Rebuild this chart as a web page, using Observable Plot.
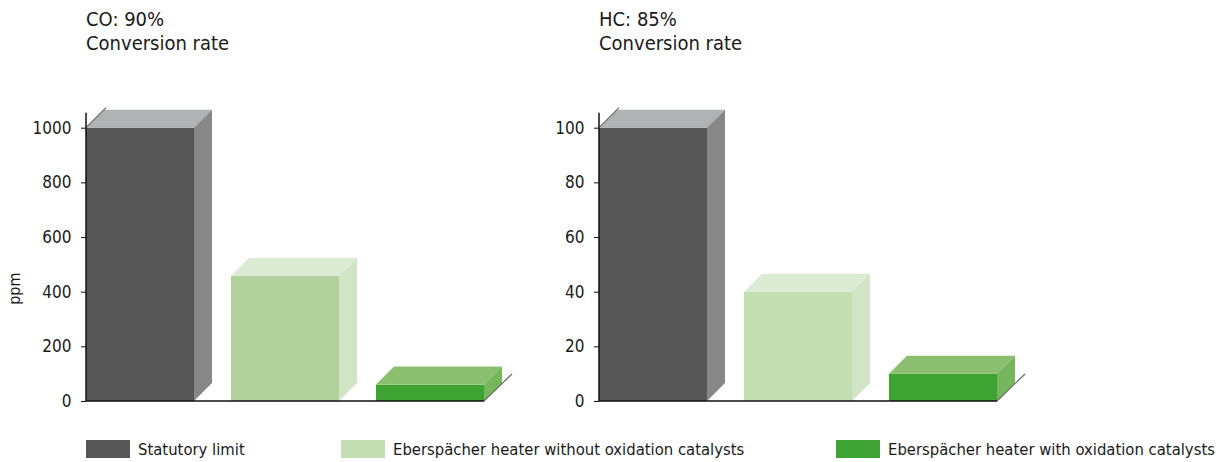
<!DOCTYPE html>
<html><head><meta charset="utf-8">
<script src="https://cdn.jsdelivr.net/npm/d3@7"></script>
<script src="https://cdn.jsdelivr.net/npm/@observablehq/plot@0.6"></script>
<style>
body{margin:0;background:#fff;}
#root{position:relative;width:1222px;height:462px;overflow:hidden;font-family:"DejaVu Sans Condensed","DejaVu Sans",sans-serif;font-stretch:condensed;color:#1a1a1a;}
.title{position:absolute;top:7px;font-size:20px;line-height:24px;white-space:nowrap;}
.panel{position:absolute;top:70px;}
.legend-item{position:absolute;top:440px;height:18px;display:flex;align-items:center;font-size:16.5px;white-space:nowrap;}
.swatch{width:44px;height:18px;margin-right:8px;flex:none;}
</style></head><body><div id="root"></div>
<script>
// ---- data ----
const series = ["Statutory limit", "Eberspächer heater without oxidation catalysts", "Eberspächer heater with oxidation catalysts"];
const coValues = [1000, 457, 60];
const hcValues = [100, 40, 10];
const coTicks = [0, 200, 400, 600, 800, 1000];
const hcTicks = [0, 20, 40, 60, 80, 100];
const coTitle = ["CO: 90%", "Conversion rate"];
const hcTitle = ["HC: 85%", "Conversion rate"];
const yLabel = "ppm";
// ---- colours ----
const coFront = ["#575757", "#b2d09c", "#3fa333"];
const hcFront = ["#575757", "#c3deb1", "#3fa333"];
const topColors = ["#b1b2b4", "#dcebd4", "#8cbe6f"];
const sideColors = ["#878787", "#d0e5c5", "#76b65c"];
const legendColors = ["#575757", "#c3deb1", "#3fa333"];

const PAD = 0.258, D = 18;
const root = document.getElementById("root");

function bandInfo(sx) {
  const step = sx(series[1]) - sx(series[0]);
  let bw = typeof sx.bandwidth === "function" ? sx.bandwidth() : sx.bandwidth;
  if (!(bw > 0)) bw = step * (1 - PAD);
  return bw;
}

function panel(values, ticks, front, showLabel) {
  const max = ticks[ticks.length - 1];
  const data = series.map((s, i) => ({s, v: values[i], c: front[i]}));
  const depth = (index, scales) => {
    const sx = scales.x, sy = scales.y, bw = bandInfo(sx), y0 = sy(0);
    const g = d3.create("svg:g");
    series.forEach((s, i) => {
      const x1 = sx(s), x2 = x1 + bw, yv = sy(values[i]);
      g.append("path").attr("d", `M${x1},${yv}L${x2},${yv}L${x2 + D},${yv - D}L${x1 + D},${yv - D}Z`).attr("fill", topColors[i]);
      g.append("path").attr("d", `M${x2},${yv}L${x2 + D},${yv - D}L${x2 + D},${y0 - D}L${x2},${y0}Z`).attr("fill", sideColors[i]);
    });
    return g.node();
  };
  const axes = (index, scales) => {
    const sx = scales.x, sy = scales.y, bw = bandInfo(sx);
    const left = sx(series[0]), right = sx(series[series.length - 1]) + bw;
    const yTop = sy(max), y0 = sy(0);
    const g = d3.create("svg:g").attr("fill", "none");
    g.append("path").attr("d", `M${right},${y0}L${right + 28},${y0 - 27}`).attr("stroke", "#6a6a6a").attr("stroke-width", 1.2);
    g.append("path").attr("d", `M${left},${yTop}L${left + 20},${yTop - 20}`).attr("stroke", "#6a6a6a").attr("stroke-width", 1.2);
    g.append("path").attr("d", `M${left},${yTop - 15}L${left},${y0}L${right},${y0}`).attr("stroke", "#111").attr("stroke-width", 1.5);
    return g.node();
  };
  const marks = [
    Plot.barY(data, {x: "s", y: "v", fill: "c"}),
    depth,
    Plot.axisY({ticks, tickSize: 5, tickPadding: 10, tickFormat: d => String(d), fontSize: 17, label: null, stroke: "#111"}),
    axes
  ];
  if (showLabel) marks.push(Plot.text([yLabel], {frameAnchor: "left", rotate: -90, dx: -72, dy: 40, fontSize: 16, fill: "#1a1a1a"}));
  return Plot.plot({
    width: 513, height: 350,
    marginLeft: 86, marginRight: 28, marginTop: 57.7, marginBottom: 19,
    x: {domain: series, paddingInner: PAD, paddingOuter: 0, align: 0, axis: null},
    y: {domain: [0, max], axis: null},
    style: {fontFamily: "'DejaVu Sans Condensed','DejaVu Sans',sans-serif", fontStretch: "condensed", fontSize: "17px", color: "#1a1a1a", background: "transparent", overflow: "visible"},
    marks
  });
}

function addTitle(lines, left) {
  const d = document.createElement("div");
  d.className = "title";
  d.style.left = left + "px";
  d.innerHTML = lines.join("<br>");
  root.appendChild(d);
}

addTitle(coTitle, 86);
addTitle(hcTitle, 599);

const p1 = panel(coValues, coTicks, coFront, true);
p1.classList.add("panel"); p1.style.left = "0px";
root.appendChild(p1);
const p2 = panel(hcValues, hcTicks, hcFront, false);
p2.classList.add("panel"); p2.style.left = "513px";
root.appendChild(p2);

const legendX = [86, 341, 836];
series.forEach((s, i) => {
  const item = document.createElement("div");
  item.className = "legend-item";
  item.style.left = legendX[i] + "px";
  const sw = document.createElement("div");
  sw.className = "swatch";
  sw.style.background = legendColors[i];
  const t = document.createElement("span");
  t.textContent = s;
  item.appendChild(sw); item.appendChild(t);
  root.appendChild(item);
});
</script></body></html>
